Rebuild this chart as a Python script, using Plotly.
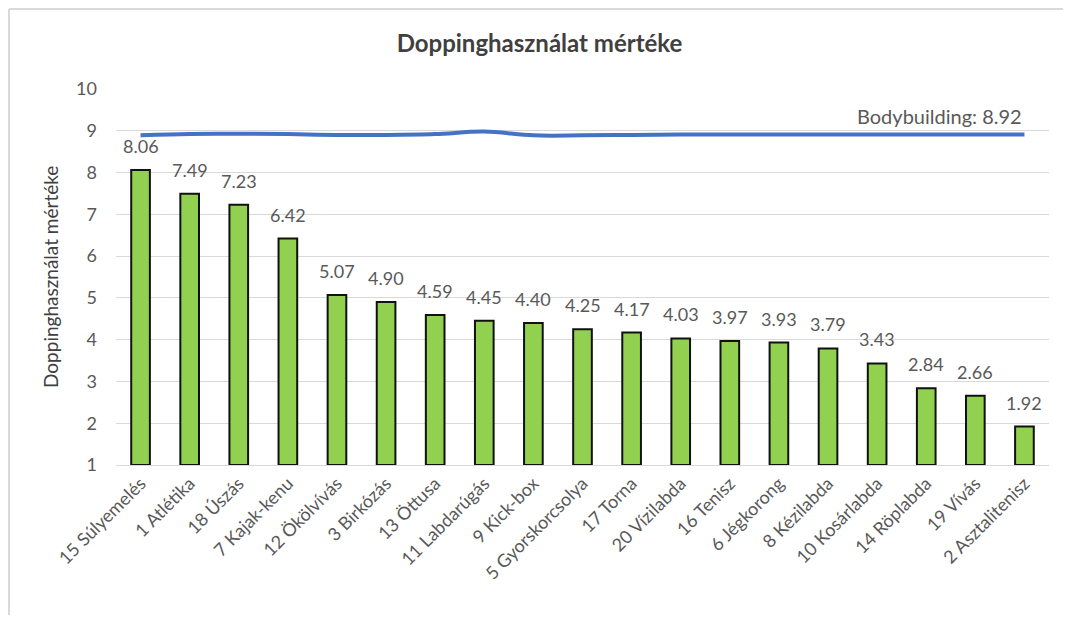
import plotly.graph_objects as go

categories = ["15 Súlyemelés", "1 Atlétika", "18 Úszás", "7 Kajak-kenu", "12 Ökölvívás",
              "3 Birkózás", "13 Öttusa", "11 Labdarúgás", "9 Kick-box", "5 Gyorskorcsolya",
              "17 Torna", "20 Vízilabda", "16 Tenisz", "6 Jégkorong", "8 Kézilabda",
              "10 Kosárlabda", "14 Röplabda", "19 Vívás", "2 Asztalitenisz"]
values = [8.06, 7.49, 7.23, 6.42, 5.07, 4.90, 4.59, 4.45, 4.40, 4.25,
          4.17, 4.03, 3.97, 3.93, 3.79, 3.43, 2.84, 2.66, 1.92]
bodybuilding = [8.89, 8.92, 8.93, 8.92, 8.90, 8.90, 8.92, 8.98, 8.89, 8.89,
                8.90, 8.91, 8.91, 8.91, 8.91, 8.91, 8.91, 8.91, 8.91]
bodybuilding_label = "Bodybuilding: 8.92"
title = "Doppinghasználat mértéke"
y_title = "Doppinghasználat mértéke"

FONT = "Lato"
GRAY = "#595959"

W, H = 1063, 614
L, R, T, B = 108, 22, 81, 157
PW, PH = W - L - R, H - T - B

fig = go.Figure()
fig.add_trace(go.Bar(
    x=categories, y=[v - 1 for v in values], base=1,
    marker=dict(color="#92D050", line=dict(color="#111111", width=2)),
    width=0.38,
    showlegend=False, hoverinfo="skip",
))
for c, v in zip(categories, values):
    fig.add_annotation(x=c, y=v, text=f"{v:.2f}", showarrow=False,
                       xanchor="center", yanchor="bottom", yshift=11,
                       font=dict(family=FONT, size=18, color=GRAY))
fig.add_trace(go.Scatter(
    x=categories, y=bodybuilding, mode="lines",
    line=dict(color="#4472C4", width=4, shape="spline"),
    showlegend=False, hoverinfo="skip",
))
fig.add_annotation(x=categories[-1], y=bodybuilding[-1], text=bodybuilding_label,
                   showarrow=False, xanchor="right", yanchor="middle", xshift=0, yshift=19,
                   font=dict(family=FONT, size=20, color=GRAY))
fig.add_annotation(xref="paper", yref="paper", x=(42 - L) / PW, y=0.5,
                   text=y_title, textangle=-90, showarrow=False,
                   xanchor="center", yanchor="middle",
                   font=dict(family=FONT, size=19, color="#404040"))

fig.update_layout(
    width=W, height=H,
    margin=dict(l=L, r=R, t=T, b=B),
    paper_bgcolor="white", plot_bgcolor="white",
    title=dict(text="<b>" + title + "</b>", x=0.5, xanchor="center",
               y=1 - 36 / H, yanchor="middle",
               font=dict(family=FONT, size=24, color="#404040")),
    xaxis=dict(tickangle=-45, tickfont=dict(family=FONT, size=18, color=GRAY),
               showgrid=False, showline=True, linecolor="#D9D9D9", linewidth=1,
               ticks="", automargin=False),
    yaxis=dict(range=[1, 10], dtick=1, tickfont=dict(family=FONT, size=18, color=GRAY),
               gridcolor="#D9D9D9", gridwidth=1, zeroline=False, showline=False,
               ticks="", ticklabelstandoff=18,
               automargin=False),
    shapes=[
        dict(type="line", xref="paper", yref="paper",
             x0=(1 - L) / PW, x1=(1 - L) / PW, y0=1 + (T - 1) / PH, y1=-(607 - (H - B)) / PH,
             line=dict(color="#D9D9D9", width=2)),
        dict(type="line", xref="paper", yref="paper",
             x0=(1 - L) / PW, x1=1.05, y0=1 + (T - 1) / PH, y1=1 + (T - 1) / PH,
             line=dict(color="#D9D9D9", width=2)),
    ],
)

fig.write_html("out.html")
